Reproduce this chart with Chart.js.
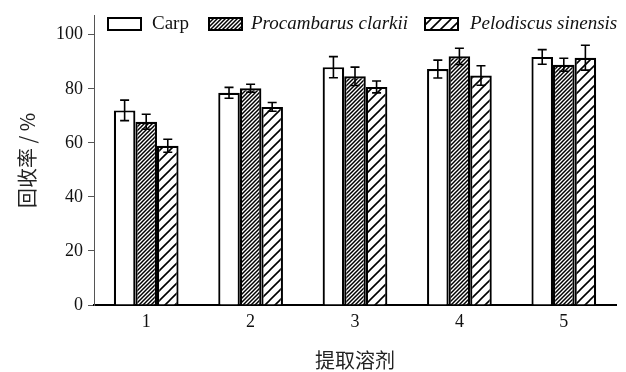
<!DOCTYPE html>
<html>
<head>
<meta charset="utf-8">
<script src="https://cdn.jsdelivr.net/npm/chart.js@4/dist/chart.umd.min.js"></script>
<style>
  html, body { margin: 0; padding: 0; background: #fff; }
  #wrap { width: 626px; height: 372px; position: relative; }
</style>
</head>
<body>
<div id="wrap"><canvas id="c"></canvas></div>
<script>
// Extraction solvents 1–5
const solvents = ['1', '2', '3', '4', '5'];

// Recovery (%) per matrix
const carp        = [72.0, 78.5, 88.0, 87.3, 91.8];
const procambarus = [67.8, 80.2, 84.6, 92.0, 88.9];
const pelodiscus  = [58.9, 73.3, 80.7, 84.9, 91.5];

// Standard deviations (%)
const carpSD        = [3.8, 2.0, 3.9, 3.3, 2.7];
const procambarusSD = [2.8, 1.5, 3.4, 3.0, 2.4];
const pelodiscusSD  = [2.4, 1.6, 2.2, 3.6, 4.6];

const yTicks = [0, 20, 40, 60, 80, 100];

const seriesNames = ['Carp', 'Procambarus clarkii', 'Pelodiscus sinensis'];

// Diagonal hatch fills
function hatch(step, lw) {
  const cv = document.createElement('canvas');
  cv.width = step; cv.height = step;
  const g = cv.getContext('2d');
  g.fillStyle = '#fff';
  g.fillRect(0, 0, step, step);
  g.strokeStyle = '#000';
  g.lineWidth = lw;
  g.beginPath();
  g.moveTo(0, step); g.lineTo(step, 0);
  g.moveTo(-2, 2); g.lineTo(2, -2);
  g.moveTo(step - 2, step + 2); g.lineTo(step + 2, step - 2);
  g.stroke();
  return document.getElementById('c').getContext('2d').createPattern(cv, 'repeat');
}
const denseHatch = hatch(4, 1.5);
const wideHatch = hatch(10, 1.6);

const fills = ['#ffffff', denseHatch, wideHatch];
const errors = [carpSD, procambarusSD, pelodiscusSD];

// Error bars drawn from the value scale
const errorBars = {
  id: 'errorBars',
  afterDatasetsDraw(chart) {
    const ctx = chart.ctx;
    const y = chart.scales.y;
    ctx.save();
    ctx.strokeStyle = '#000';
    ctx.lineWidth = 1.6;
    chart.data.datasets.forEach((ds, i) => {
      const meta = chart.getDatasetMeta(i);
      meta.data.forEach((bar, j) => {
        const v = ds.data[j], e = errors[i][j];
        const top = y.getPixelForValue(v + e);
        const bot = y.getPixelForValue(v - e);
        const x = bar.x, w = 4.5;
        ctx.beginPath();
        ctx.moveTo(x, top); ctx.lineTo(x, bot);
        ctx.moveTo(x - w, top); ctx.lineTo(x + w, top);
        ctx.moveTo(x - w, bot); ctx.lineTo(x + w, bot);
        ctx.stroke();
      });
    });
    ctx.restore();
  }
};

// Legend row across the top of the plot
const topLegend = {
  id: 'topLegend',
  afterDraw(chart) {
    const ctx = chart.ctx;
    const items = [
      { box: 108, text: 152, italic: false },
      { box: 209, text: 251, italic: true },
      { box: 425, text: 470, italic: true }
    ];
    ctx.save();
    items.forEach((it, i) => {
      ctx.fillStyle = fills[i];
      ctx.fillRect(it.box, 18, 33, 12);
      ctx.strokeStyle = '#000';
      ctx.lineWidth = 2;
      ctx.strokeRect(it.box, 18, 33, 12);
      ctx.fillStyle = '#111';
      ctx.font = (it.italic ? 'italic ' : '') + '19px "Liberation Serif"';
      ctx.textBaseline = 'middle';
      ctx.textAlign = 'left';
      ctx.fillText(seriesNames[i], it.text, 24);
    });
    ctx.restore();
  }
};

const datasets = [carp, procambarus, pelodiscus].map((d, i) => ({
  label: seriesNames[i],
  data: d,
  backgroundColor: fills[i],
  borderColor: '#000',
  borderWidth: 2.2,
  barPercentage: 1.0,
  categoryPercentage: 0.62
}));

new Chart(document.getElementById('c'), {
  type: 'bar',
  data: { labels: solvents, datasets },
  plugins: [errorBars, topLegend],
  options: {
    responsive: true,
    maintainAspectRatio: false,
    animation: false,
    layout: { padding: { left: 0, right: 10, top: 10, bottom: 0 } },
    plugins: { legend: { display: false }, tooltip: { enabled: false } },
    scales: {
      x: {
        grid: { display: false, drawTicks: false },
        border: { display: true, color: '#000', width: 2 },
        ticks: { color: '#111', padding: 6, font: { family: 'Liberation Serif', size: 18 } },
        title: {
          display: true, text: '提取溶剂', color: '#222',
          font: { family: 'Noto Sans CJK SC', size: 20 },
          padding: { top: 0, bottom: 0 }
        },
        afterFit(s) { s.height = 67; }
      },
      y: {
        min: 0, max: 107,
        grid: { display: true, drawOnChartArea: false, drawTicks: true, tickLength: 6, color: '#555' },
        border: { display: true, color: '#555', width: 1 },
        ticks: { stepSize: 20, color: '#111', padding: 5, font: { family: 'Liberation Serif', size: 18 } },
        afterBuildTicks(s) { s.ticks = yTicks.map(v => ({ value: v })); },
        title: {
          display: true, text: '回收率 / %', color: '#222',
          font: { family: 'Noto Sans CJK SC', size: 20 },
          padding: { top: 15, bottom: 0 }
        },
        afterFit(s) { s.width = 94; }
      }
    }
  }
});
</script>
</body>
</html>
